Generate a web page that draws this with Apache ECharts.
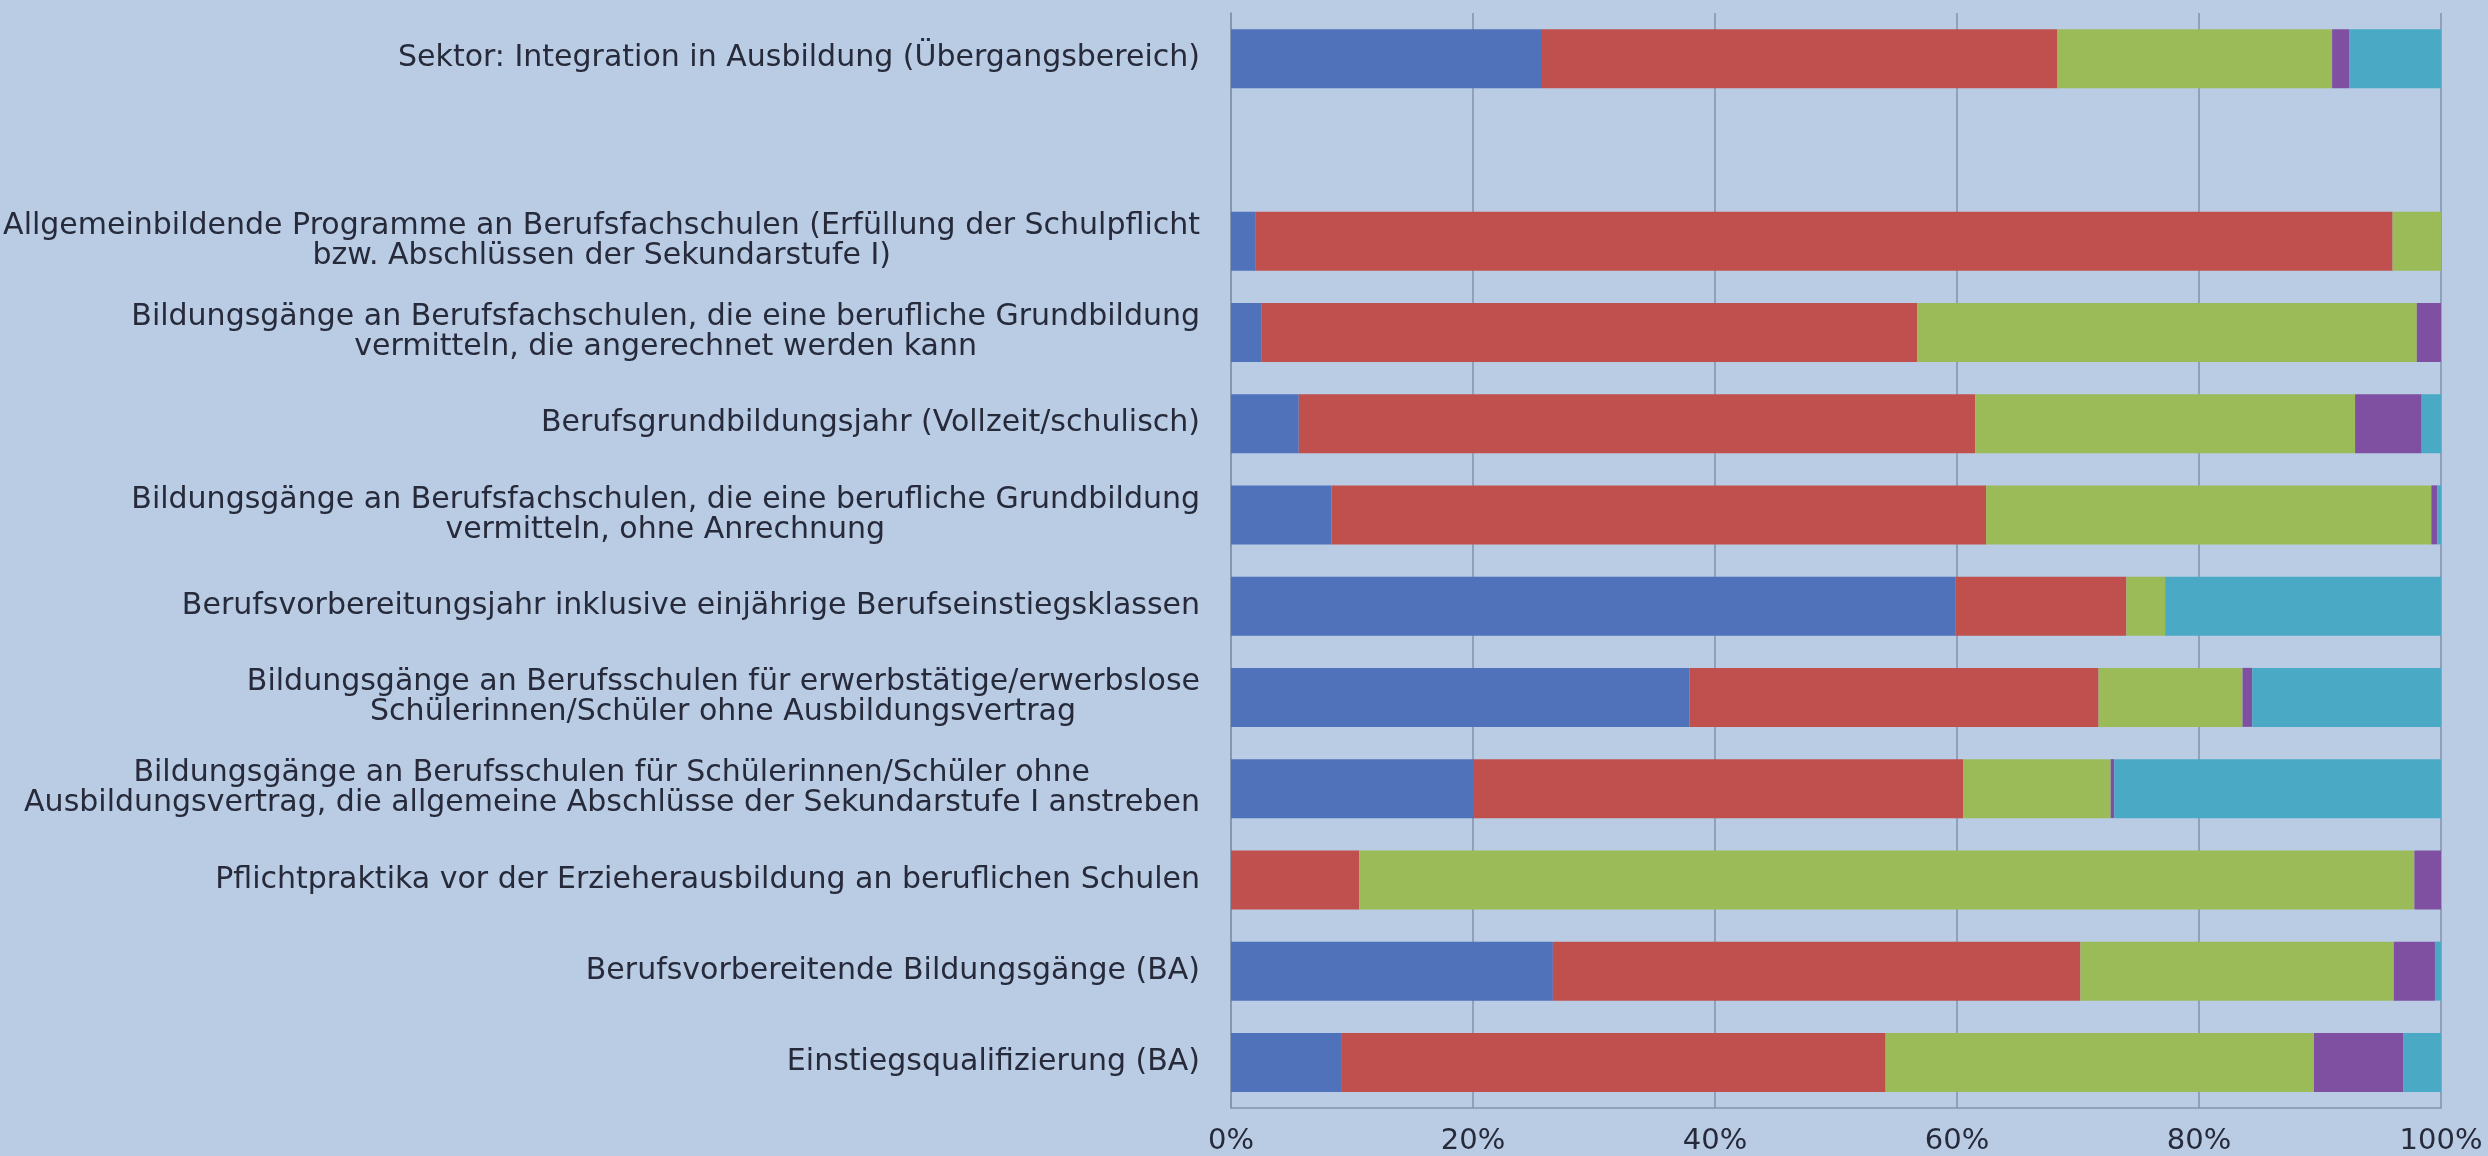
<!DOCTYPE html>
<html>
<head>
<meta charset="utf-8">
<title>Übergangsbereich</title>
<script src="https://cdn.jsdelivr.net/npm/echarts@6/dist/echarts.min.js"></script>
<style>
  html, body { margin: 0; padding: 0; background: #b9cce4; }
  #graph { width: 2488px; height: 1156px; }
</style>
</head>
<body>
<div id="graph"></div>
<script>
"use strict"

// categories, top to bottom (empty slot after the sector row)
const categories = [
    "Sektor: Integration in Ausbildung (Übergangsbereich)",
    "",
    "Allgemeinbildende Programme an Berufsfachschulen (Erfüllung der Schulpflicht\nbzw. Abschlüssen der Sekundarstufe I)",
    "Bildungsgänge an Berufsfachschulen, die eine berufliche Grundbildung\nvermitteln, die angerechnet werden kann",
    "Berufsgrundbildungsjahr (Vollzeit/schulisch)",
    "Bildungsgänge an Berufsfachschulen, die eine berufliche Grundbildung\nvermitteln, ohne Anrechnung",
    "Berufsvorbereitungsjahr inklusive einjährige Berufseinstiegsklassen",
    "Bildungsgänge an Berufsschulen für erwerbstätige/erwerbslose\nSchülerinnen/Schüler ohne Ausbildungsvertrag",
    "Bildungsgänge an Berufsschulen für Schülerinnen/Schüler ohne\nAusbildungsvertrag, die allgemeine Abschlüsse der Sekundarstufe I anstreben",
    "Pflichtpraktika vor der Erzieherausbildung an beruflichen Schulen",
    "Berufsvorbereitende Bildungsgänge (BA)",
    "Einstiegsqualifizierung (BA)"
];

// shares in percent, one array per segment
const ohneHSA     = [25.7, null,  2.0,  2.5,  5.6,  8.3, 59.9, 37.9, 20.0,  0.0, 26.6,  9.1];
const mitHSA      = [42.6, null, 94.0, 54.2, 55.9, 54.1, 14.1, 33.8, 40.5, 10.6, 43.6, 45.0];
const mittlererAb = [22.7, null,  4.0, 41.3, 31.4, 36.8,  3.2, 11.9, 12.2, 87.2, 25.9, 35.4];
const hochschulR  = [ 1.4, null,  0.0,  2.0,  5.5,  0.5,  0.0,  0.8,  0.3,  2.2,  3.4,  7.4];
const sonstige    = [ 7.6, null,  0.0,  0.0,  1.6,  0.3, 22.8, 15.6, 27.0,  0.0,  0.5,  3.1];

const xTicks = { min: 0, max: 100, interval: 20 };

const seriesDefs = [
    ["ohne Hauptschulabschluss", ohneHSA, "#4f72bb"],
    ["mit Hauptschulabschluss", mitHSA, "#c0504d"],
    ["mittlerer Abschluss", mittlererAb, "#9bbb59"],
    ["Hochschulreife", hochschulR, "#7f50a1"],
    ["sonstige", sonstige, "#4aaac5"]
];

const fontFam = "'DejaVu Sans', sans-serif";
const fontSize = 30;
const lineH = 30;
const txtColor = "#262a3a";

// measure lines so wrapped labels can be centred under each other
const ctx = document.createElement("canvas").getContext("2d");
ctx.font = `${fontSize}px ${fontFam}`;
const rich = {};
const labelText = {};
categories.forEach(cat =>
{
    const lines = cat.split("\n");
    if (lines.length < 2)
    {
        labelText[cat] = cat;
        return;
    }
    const widths = lines.map(l => ctx.measureText(l).width);
    const maxW = Math.max(...widths);
    labelText[cat] = lines.map((l, i) =>
    {
        const pad = Math.round((maxW - widths[i]) / 2);
        const key = "p" + pad;
        if (!rich[key])
            rich[key] = { color: txtColor, fontFamily: fontFam, fontSize: fontSize, lineHeight: lineH, padding: [0, pad, 0, pad] };
        return `{${key}|${l}}`;
    }).join("\n");
});

const myChart = echarts.init(document.getElementById("graph"), null, { renderer: "canvas" });

const option = {
    backgroundColor: "#b9cce4",
    animation: false,
    grid: { left: 1231, right: 47, top: 13, bottom: 48, containLabel: false },
    xAxis: {
        type: "value",
        min: xTicks.min,
        max: xTicks.max,
        interval: xTicks.interval,
        axisLine: { show: true, lineStyle: { color: "#8592ad", width: 1.5 } },
        axisTick: { show: false },
        splitLine: { show: true, lineStyle: { color: "#8592ad", width: 1.5 } },
        axisLabel: {
            formatter: "{value}%",
            color: txtColor,
            fontFamily: fontFam,
            fontSize: 29,
            margin: 19
        }
    },
    yAxis: {
        type: "category",
        inverse: true,
        data: categories,
        axisLine: { show: true, lineStyle: { color: "#8592ad", width: 1.5 } },
        axisTick: { show: false },
        axisLabel: {
            margin: 31,
            color: txtColor,
            fontFamily: fontFam,
            fontSize: fontSize,
            lineHeight: lineH,
            formatter: val => labelText[val],
            rich: rich
        }
    },
    series: seriesDefs.map(def => ({
        name: def[0],
        type: "bar",
        stack: "total",
        data: def[1],
        barWidth: 59,
        itemStyle: { color: def[2] }
    }))
};
myChart.setOption(option);
</script>
</body>
</html>
